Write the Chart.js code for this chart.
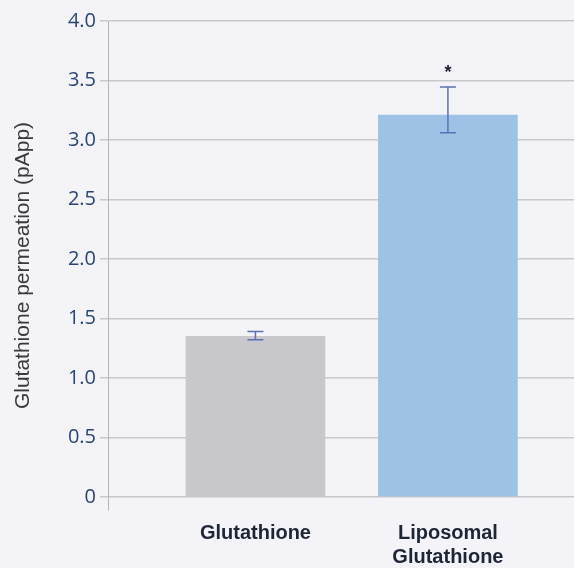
<!DOCTYPE html>
<html>
<head>
<meta charset="utf-8">
<script src="https://cdn.jsdelivr.net/npm/chart.js@4.4.1/dist/chart.umd.min.js"></script>
<style>
  html, body { margin: 0; padding: 0; background: #f3f3f8; }
  #wrap { width: 574px; height: 568px; }
</style>
</head>
<body>
<div id="wrap"><canvas id="chart"></canvas></div>
<script>
const categories = [["Glutathione"], ["Liposomal", "Glutathione"]];
const permeation = [1.35, 3.21];
const errLow = [1.32, 3.06];
const errHigh = [1.39, 3.445];
const marks = ["", "*"];
const yTickValues = [0, 0.5, 1, 1.5, 2, 2.5, 3, 3.5, 4];
const yTickLabels = ["0", "0.5", "1.0", "1.5", "2.0", "2.5", "3.0", "3.5", "4.0"];
const barColors = ["#c8c8cc", "#9dc2e6"];

const errorBarsPlugin = {
  id: "errorBars",
  afterDatasetsDraw(chart) {
    const ctx = chart.ctx;
    const xs = chart.scales.x;
    const ys = chart.scales.y;
    ctx.save();
    categories.forEach((c, i) => {
      const x = xs.getPixelForValue(i + 1);
      const yl = ys.getPixelForValue(errLow[i]);
      const yh = ys.getPixelForValue(errHigh[i]);
      ctx.strokeStyle = "#5d71b3";
      ctx.lineWidth = 1.5;
      ctx.beginPath();
      ctx.moveTo(x, yl); ctx.lineTo(x, yh);
      ctx.moveTo(x - 8, yl); ctx.lineTo(x + 8, yl);
      ctx.moveTo(x - 8, yh); ctx.lineTo(x + 8, yh);
      ctx.stroke();
      if (marks[i]) {
        ctx.fillStyle = "#1a2233";
        ctx.font = "bold 18px 'Liberation Sans', Arial, sans-serif";
        ctx.textAlign = "center";
        ctx.textBaseline = "middle";
        ctx.fillText(marks[i], x, yh - 14);
      }
    });
    ctx.restore();
  }
};

new Chart(document.getElementById("chart"), {
  type: "bar",
  data: {
    datasets: [{
      data: permeation.map((v, i) => ({ x: i + 1, y: v })),
      backgroundColor: barColors,
      barThickness: 139,
      borderWidth: 0
    }]
  },
  options: {
    responsive: true,
    maintainAspectRatio: false,
    animation: false,
    layout: { padding: { top: 21, right: 0, left: 0, bottom: 0 } },
    plugins: { legend: { display: false }, tooltip: { enabled: false } },
    scales: {
      x: {
        type: "linear",
        offset: false,
        min: 0.234,
        max: 2.655,
        grid: { display: false, drawTicks: false, tickLength: 0 },
        border: { display: false },
        afterBuildTicks(scale) {
          scale.ticks = categories.map((c, i) => ({ value: i + 1 }));
        },
        afterFit(scale) { scale.height = 58; },
        ticks: {
          autoSkip: false,
          maxRotation: 0,
          padding: 11,
          color: "#1e2636",
          font: { family: "'Liberation Sans', Arial, sans-serif", size: 20, weight: "bold", lineHeight: 1.22 },
          callback: (v) => categories[Math.round(v) - 1] || ""
        }
      },
      y: {
        min: -0.11,
        max: 4,
        afterBuildTicks(scale) {
          scale.ticks = yTickValues.map(v => ({ value: v }));
        },
        afterFit(scale) { scale.width = 108; },
        grid: { color: "#c9c9c9", lineWidth: 1.5, tickLength: 8 },
        border: { color: "#b5b5b5", width: 1 },
        ticks: {
          padding: 4,
          color: "#2a4670",
          font: { family: "'Open Sans', sans-serif", size: 20, weight: "500" },
          callback: (v) => yTickLabels[yTickValues.indexOf(v)]
        },
        title: {
          display: true,
          text: "Glutathione permeation (pApp)",
          color: "#3a3a3a",
          padding: { top: 11, bottom: 0 },
          font: { family: "'Liberation Sans', Arial, sans-serif", size: 21 }
        }
      }
    }
  },
  plugins: [errorBarsPlugin]
});
</script>
</body>
</html>
